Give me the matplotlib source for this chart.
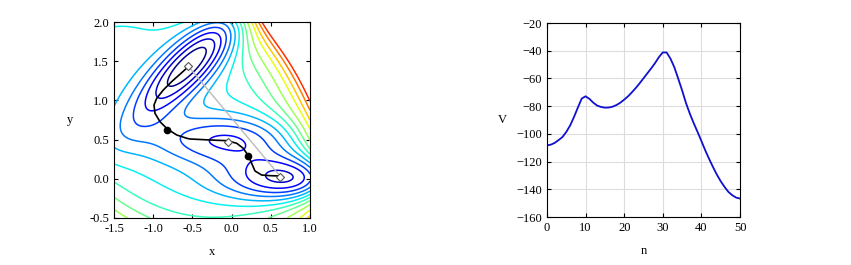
import matplotlib
matplotlib.use('Agg')
import matplotlib.pyplot as plt
import numpy as np

# Mueller-Brown surface parameters
mb_A = [-200, -100, -170, 15]
mb_a = [-1, -1, -6.5, 0.7]
mb_b = [0, 0, 11, 0.6]
mb_c = [-10, -10, -6.5, 0.7]
mb_x0 = [1, 0, -0.5, -1]
mb_y0 = [0, 0.5, 1.5, 1]

contour_levels = [-125, -100, -75, -50, -25, 0, 25, 50, 75, 105, 140, 170,
                  205, 240]

# minimum energy path
path_x = [0.609, 0.490, 0.384, 0.298, 0.256, 0.213, 0.149, 0.065, -0.055,
          -0.276, -0.531, -0.573, -0.700, -0.820, -0.913, -0.977, -0.990,
          -0.955, -0.871, -0.764, -0.658, -0.552]
path_y = [0.036, 0.040, 0.048, 0.100, 0.198, 0.295, 0.389, 0.453, 0.486,
          0.495, 0.508, 0.517, 0.559, 0.635, 0.728, 0.835, 0.941,
          1.027, 1.133, 1.240, 1.334, 1.430]

minima_x = [-0.558, -0.050, 0.623]
minima_y = [1.442, 0.467, 0.028]
saddle_x = [-0.822, 0.212]
saddle_y = [0.624, 0.293]

# energy along the path
n_vals = list(range(51))
v_vals = [-108.3, -107.8, -106.5, -104.5, -102.3, -98.6, -93.9, -87.8, -81.0,
          -74.5, -72.9, -74.8, -77.5, -79.6, -80.6, -81.1, -81.0, -80.4,
          -79.2, -77.5, -75.3, -72.9, -70.0, -66.9, -63.5, -59.9, -56.3,
          -52.7, -48.9, -44.6, -41.2, -41.3, -45.8, -52.0, -60.2, -68.6,
          -77.7, -85.4, -92.2, -98.6, -105.2, -111.9, -118.1, -123.9,
          -129.4, -134.2, -138.3, -141.9, -144.3, -146.0, -146.7]


def mueller_brown(x, y):
    v = np.zeros_like(x)
    for A, a, b, c, x0, y0 in zip(mb_A, mb_a, mb_b, mb_c, mb_x0, mb_y0):
        dx = x - x0
        dy = y - y0
        v += A * np.exp(a * dx**2 + b * dx * dy + c * dy**2)
    return v


plt.rcParams['font.family'] = ['Liberation Serif', 'DejaVu Serif']
plt.rcParams['font.size'] = 9
plt.rcParams['xtick.direction'] = 'in'
plt.rcParams['ytick.direction'] = 'in'
plt.rcParams['xtick.top'] = True
plt.rcParams['ytick.right'] = True
plt.rcParams['xtick.major.size'] = 3
plt.rcParams['ytick.major.size'] = 3

W, H = 851, 265
fig = plt.figure(figsize=(W / 100, H / 100), dpi=100)

# --- left: contour + path ---
ax1 = fig.add_axes([114 / W, (H - 218) / H, 196 / W, 196 / H])
xs = np.linspace(-1.5, 1.0, 400)
ys = np.linspace(-0.5, 2.0, 400)
X, Y = np.meshgrid(xs, ys)
Z = mueller_brown(X, Y)
norm = matplotlib.colors.Normalize(vmin=-130, vmax=300)
ax1.contour(X, Y, Z, levels=contour_levels, cmap='jet', norm=norm,
            linewidths=1.1)

ax1.plot([minima_x[2], minima_x[0]], [minima_y[2], minima_y[0]],
         color='#bbbbbb', linewidth=1.0)
ax1.plot(path_x, path_y, color='black', linewidth=1.2)
ax1.plot(saddle_x, saddle_y, 'o', color='black', markersize=4.5)
ax1.plot(minima_x, minima_y, 'D', markerfacecolor='white',
         markeredgecolor='#555555', markersize=4, markeredgewidth=0.8)

ax1.set_xlim(-1.5, 1.0)
ax1.set_ylim(-0.5, 2.0)
ax1.set_xticks([-1.5, -1.0, -0.5, 0.0, 0.5, 1.0])
ax1.set_yticks([-0.5, 0.0, 0.5, 1.0, 1.5, 2.0])
ax1.xaxis.set_major_formatter(matplotlib.ticker.FormatStrFormatter('%.1f'))
ax1.yaxis.set_major_formatter(matplotlib.ticker.FormatStrFormatter('%.1f'))
ax1.set_xlabel('x', labelpad=8)
ax1.set_ylabel('y', rotation=0, va='center', labelpad=14)

# --- right: energy profile ---
ax2 = fig.add_axes([547 / W, (H - 217) / H, 193 / W, 194 / H])
ax2.plot(n_vals, v_vals, color='#1010d0', linewidth=1.3)
ax2.set_xlim(0, 50)
ax2.set_ylim(-160, -20)
ax2.set_xticks(range(0, 51, 10))
ax2.set_yticks(range(-160, -19, 20))
ax2.grid(True, color='#dddddd', linewidth=0.8)
ax2.set_axisbelow(True)
ax2.set_xlabel('n', labelpad=8)
ax2.set_ylabel('V', rotation=0, va='center', labelpad=10)

fig.savefig('out.png', dpi=100)
